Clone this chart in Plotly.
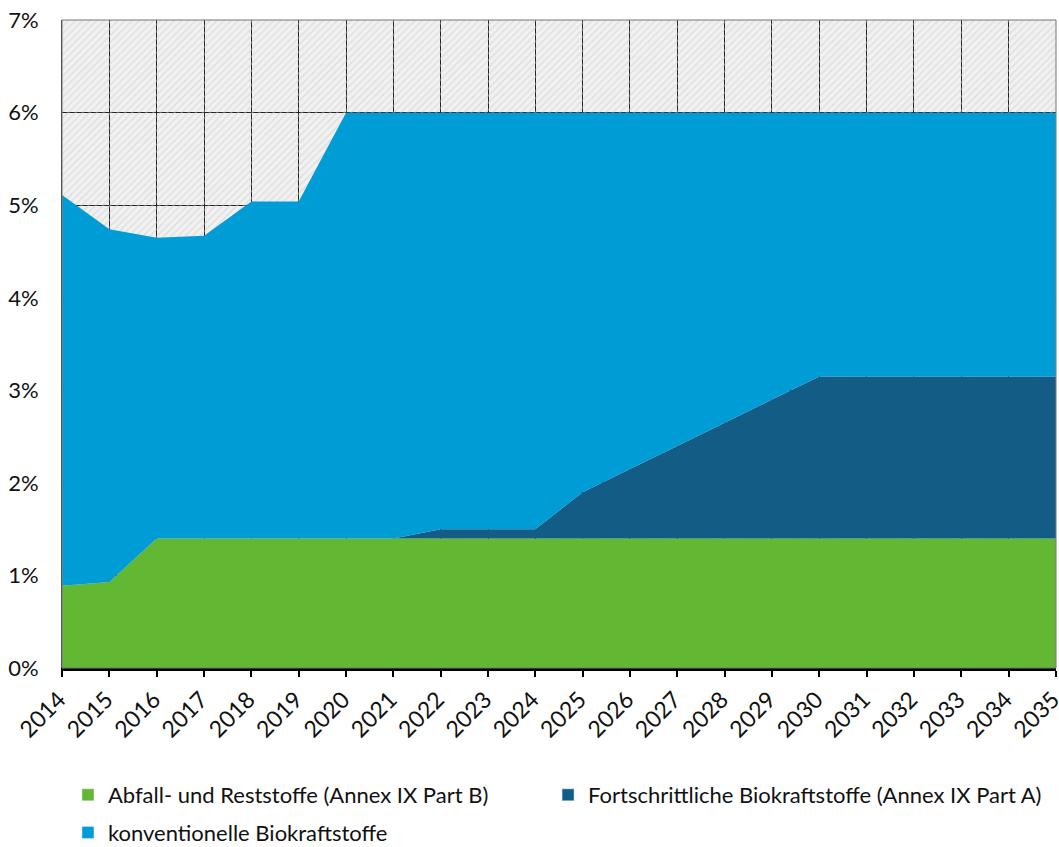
import plotly.graph_objects as go

years = list(range(2014, 2036))
part_b = [0.89, 0.93, 1.40, 1.40, 1.40, 1.40, 1.40, 1.40, 1.40, 1.40, 1.40,
          1.40, 1.40, 1.40, 1.40, 1.40, 1.40, 1.40, 1.40, 1.40, 1.40, 1.40]
part_a = [0.0, 0.0, 0.0, 0.0, 0.0, 0.0, 0.0, 0.0, 0.10, 0.10, 0.10,
          0.50, 0.75, 1.00, 1.25, 1.50, 1.75, 1.75, 1.75, 1.75, 1.75, 1.75]
konv = [4.22, 3.81, 3.25, 3.27, 3.64, 3.64, 4.60, 4.60, 4.50, 4.50, 4.50,
        4.10, 3.85, 3.60, 3.35, 3.10, 2.85, 2.85, 2.85, 2.85, 2.85, 2.85]
y_ticks = [0, 1, 2, 3, 4, 5, 6, 7]
y_labels = ["0%", "1%", "2%", "3%", "4%", "5%", "6%", "7%"]

names = ["Abfall- und Reststoffe (Annex IX Part B)",
         "Fortschrittliche Biokraftstoffe (Annex IX Part A)",
         "konventionelle Biokraftstoffe"]
colors = ["#62B832", "#135C85", "#009CD5"]
legend_ids = ["legend", "legend3", "legend2"]

FONT = "Lato"
EPS = 0.002

fig = go.Figure()

# hatched background over whole plot area
fig.add_trace(go.Scatter(
    x=[years[0] - EPS, years[-1] + EPS, years[-1] + EPS, years[0] - EPS, years[0] - EPS],
    y=[y_ticks[0], y_ticks[0], y_ticks[-1] + EPS, y_ticks[-1] + EPS, y_ticks[0]],
    fill="toself", mode="none", fillcolor="rgba(0,0,0,0)",
    fillpattern=dict(shape="/", fgcolor="#cdcdcd", bgcolor="rgba(0,0,0,0)",
                     size=5, solidity=0.3),
    showlegend=False, hoverinfo="skip"))

for vals, name, col in zip([part_b, part_a, konv], names, colors):
    fig.add_trace(go.Scatter(
        x=years, y=vals, stackgroup="one", mode="none",
        fillcolor=col, name=name, showlegend=False))

for name, col, lg in zip(names, colors, legend_ids):
    fig.add_trace(go.Bar(x=[None], y=[None], name=name, marker_color=col,
                         showlegend=True, legend=lg))

leg_common = dict(orientation="h", xanchor="left", yanchor="middle",
                  traceorder="normal", itemwidth=30,
                  bgcolor="rgba(0,0,0,0)",
                  font=dict(family=FONT, size=22, color="#111"))

fig.update_layout(
    width=1059, height=847,
    margin=dict(l=62, r=3, t=20, b=179, autoexpand=False),
    paper_bgcolor="white",
    plot_bgcolor="#f1f1f1",
    font=dict(family=FONT, size=20, color="#111"),
    showlegend=True,
    legend=dict(x=0.006, y=-0.196, **leg_common),
    legend2=dict(x=0.006, y=-0.254, **leg_common),
    legend3=dict(x=0.489, y=-0.196, **leg_common),
    shapes=[dict(type="rect", xref="paper", yref="paper", x0=0, x1=1, y0=0, y1=1,
                 line=dict(color="#777", width=1), fillcolor="rgba(0,0,0,0)",
                 layer="above")],
)
fig.update_xaxes(
    range=[years[0] - EPS, years[-1] + EPS], tickmode="array", tickvals=years,
    ticktext=[str(y) for y in years], tickangle=-45, ticklabeloverflow="allow",
    ticklabelshift=-3,
    showgrid=True, gridcolor="#222", gridwidth=1,
    showline=True, linecolor="black", linewidth=3,
    ticks="outside", ticklen=6, tickwidth=2, tickcolor="black",
    zeroline=False, tickfont=dict(family=FONT, size=23))
fig.update_yaxes(
    range=[y_ticks[0], y_ticks[-1] + EPS], tickmode="array", tickvals=y_ticks,
    ticktext=y_labels, showgrid=True, gridcolor="#222", gridwidth=1,
    showline=True, linecolor="#333", linewidth=1, ticks="",
    zeroline=False, ticklabelstandoff=18, tickfont=dict(family=FONT, size=22))

fig.write_html("out.html", config={"displayModeBar": False},
               post_script="document.body.style.margin='0';")
